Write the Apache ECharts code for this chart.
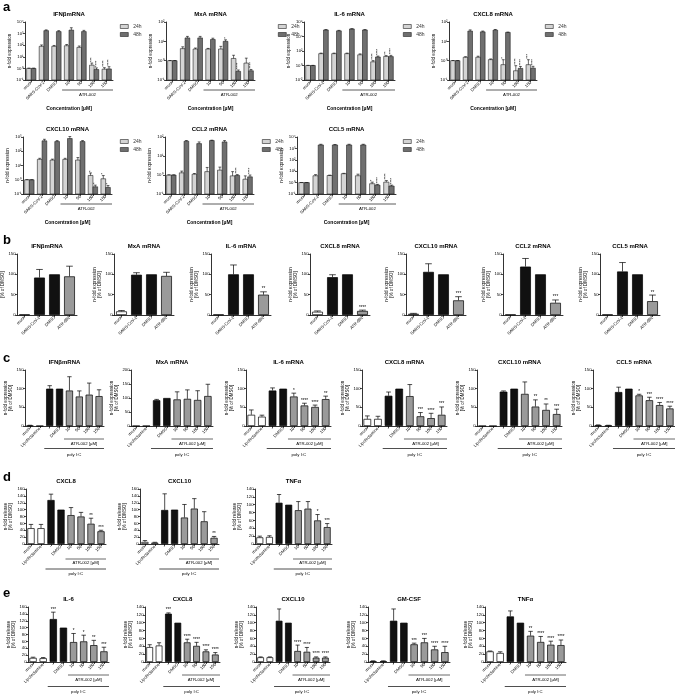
<!DOCTYPE html>
<html><head><meta charset="utf-8">
<script src="https://cdn.jsdelivr.net/npm/echarts@6/dist/echarts.min.js"></script>
<style>html,body{margin:0;padding:0;background:#fff}#c{width:675px;height:695px}</style>
</head><body><div id="c"></div>
<script>
// ================= DATA =================
// Panel a (log scale, 24h / 48h)
const aCats = ['mock','SARS-CoV-2','DMSO','10','50','100','150'];
const aTitles = ['IFNβmRNA','MxA mRNA','IL-6 mRNA','CXCL8 mRNA','CXCL10 mRNA','CCL2 mRNA','CCL5 mRNA'];
const aMin = [0.1,0.1,0.01,0.1,0.1,0.1,0.1];
const aMax = [1e4,100,1e6,100,1000,100,1e4];
const aStep = [1,1,2,1,1,1,1];
const a24h = [
  [1,80,80,90,65,1.9,0.85],
  [1,4.2,4,4,4,1.3,0.75],
  [1,43,43,43,30,3.2,18],
  [1,1.5,1.5,1.13,0.62,0.3,0.62],
  [1,27,24,27,24,2,1.17],
  [1,1.3,1.1,1.5,1.8,0.9,0.6],
  [1,4,4.2,6,4,0.8,1.1]];
const a24hErr = [
  [0.05,25,15,25,20,1.0,0.3],
  [0.02,1,0.5,0.3,1.5,0.6,0.6],
  [0.05,8,8,8,10,1.5,5],
  [0.02,0.1,0.2,0.1,0.5,0.25,0.5],
  [0.02,5,4,5,12,1,0.8],
  [0.02,0.3,0.1,1,0.8,0.6,0.3],
  [0.02,1,0.3,0.5,1.5,0.3,0.4]];
const a48h = [
  [1,1800,1500,2000,1500,0.8,0.9],
  [1,15,15,12.5,10,0.28,0.3],
  [1,8e4,6e4,1.1e5,8e4,15,17],
  [1,34,31,38,29,0.4,0.41],
  [1,540,480,780,480,0.32,0.29],
  [1,60,45,65,55,0.95,0.8],
  [1,2000,2000,2000,2000,0.6,0.5]];
const a48hErr = [
  [0.05,300,300,1200,400,0.3,0.5],
  [0.02,3,3,2,2,0.05,0.05],
  [0.05,1e4,1e4,1e4,1e4,5,8],
  [0.02,5,3,3,1,0.1,0.1],
  [0.02,150,80,300,80,0.1,0.1],
  [0.02,5,10,3,10,0.1,0.2],
  [0.02,300,200,300,300,0.1,0.1]];
const a24hStars = [
  ['','','','','','***','****'],
  ['','','','','','',''],
  ['','','','','','****','**'],
  ['','','','','*','****','***'],
  ['','','','','','*','*'],
  ['','','','','','',''],
  ['','','','','','*','****']];
const a48hStars = [
  ['','','','','','****','****'],
  ['','','','','*','****','****'],
  ['','','','','','****','****'],
  ['','','','','','****','****'],
  ['','','','','','*','*'],
  ['','','','','','****','****'],
  ['','','','','','****','****']];

// Panel b
const bCats = ['mock','SARS-CoV-2','DMSO','ATR-002'];
const bTitles = ['IFNβmRNA','MxA mRNA','IL-6 mRNA','CXCL8 mRNA','CXCL10 mRNA','CCL2 mRNA','CCL5 mRNA'];
const bVals = [[1,92,100,95],[9,99,100,96],[1,100,100,50],[8,93,100,10],[3,106,100,36],[1,119,100,30],[1,107,100,34]];
const bErr = [[0,20,0,25],[2,5,0,9],[0,23,0,7],[2,6,0,2],[1,20,0,9],[0,20,0,7],[0,22,0,15]];
const bStars = [['','','',''],['','','',''],['','','','**'],['','','','****'],['','','','***'],['','','','***'],['','','','**']];

// Panels c, d, e
const polyCats = ['mock','Lipofectamine','-','DMSO','10','50','100','150'];
const cTitles = ['IFNβmRNA','MxA mRNA','IL-6 mRNA','CXCL8 mRNA','CXCL10 mRNA','CCL5 mRNA'];
const cMax = [150,200,150,150,150,150];
const cVals = [
  [1,0,100,100,95,79,84,80],
  [0,0,92,100,95,97,93,107],
  [30,25,95,100,79,55,51,72],
  [19,19,81,100,80,26,21,30],
  [0,0,92,100,86,52,43,32],
  [2,1,91,100,82,69,56,47]];
const cErr = [
  [1,0,8,0,37,15,31,17],
  [0,0,3,0,27,32,33,42],
  [13,4,7,0,9,6,5,8],
  [8,7,10,0,31,10,13,21],
  [0,0,2,0,32,18,16,13],
  [1,1,13,0,3,8,7,6]];
const cStars = [
  ['','','','','','','',''],
  ['','','','','','','',''],
  ['','','','','*','****','****','**'],
  ['','','','','','***','****','***'],
  ['','','','','','**','**','***'],
  ['','','','','*','***','****','****']];

const dTitles = ['CXCL8','CXCL10','TNFα'];
const dMax = [160,160,140];
const dVals = [[46,46,128,100,84,80,59,37],[6,4,99,100,77,103,66,18],[17,18,105,100,86,90,60,43]];
const dErr = [[11,11,17,0,22,12,16,3],[4,1,47,0,38,29,28,4],[3,3,21,0,22,18,15,9]];
const dStars = [['','','','','','','**','***'],['','','','','','','','**'],['','','','','','','*','***']];

const eTitles = ['IL-6','CXCL8','CXCL10','GM-CSF','TNFα'];
const eMax = [160,140,140,140,140];
const eVals = [[12,11,125,100,58,60,49,31],[38,42,123,100,50,41,27,19],[12,12,105,100,28,26,11,11],[2,2,105,100,45,50,32,25],[27,23,116,100,67,51,44,43]];
const eErr = [[2,2,20,0,25,18,14,12],[6,7,2,0,8,9,4,5],[1,1,30,0,15,11,2,2],[1,1,30,0,3,10,8,15],[1,3,14,0,11,14,9,13]];
const eStars = [['','','***','','*','*','**','***'],['','','***','','****','****','****','****'],['','','','','****','****','****','****'],['','','','','***','***','****','****'],['','','','','**','****','****','****']];

const bColorKeys = ['w','k','k','g'];
const polyColorKeys = ['w','w','k','k','g','g','g','g'];

// ================= LAYOUT =================
const FONT = 'Liberation Sans, Arial, sans-serif';
const aLayout = [[25,22,88,58],[166,22,89,58],[304,22,91,58],[449,22,88,58],[23,137,89,57],[165,137,89,57],[297,137,99,57]];
const aLegendPos = [[120,24],[278,24],[403,24],[545,24],[120,139],[262,139],[403,139]];
const bLeft = [17,114,211,310,406,503,600], bTop = 254, bH = 61, bW = 60;
const cLeft = [25,131,246,362,477,593], cW = [79,82,85,85,85,82], cTop = 370, cH = 56;
const dLeft = [26,140,255], dW = [80,79,77], dTop = 489, dH = 55;
const eLeft = [28,145,256,368,485], eW = [81,75,74,82,81], eTop = 607, eH = 55;

const fills = {w:'#ffffff', k:'#111111', g:'#9a9a9a'};
const aFill24 = '#d4d4d4', aFill48 = '#6f6f6f';
const sup = {'0':'⁰','1':'¹','2':'²','3':'³','4':'⁴','5':'⁵','6':'⁶','7':'⁷','8':'⁸','9':'⁹','-':'⁻'};
function pow10(v){ const e = Math.round(Math.log10(v)); return '10' + String(e).split('').map(c=>sup[c]).join(''); }

const option = {animation:false, textStyle:{fontFamily:FONT}, grid:[], xAxis:[], yAxis:[], series:[], legend:[], graphic:[]};

function addGrid(left, top, width, height, cats, yAx, title, xName, xGap){
  const gi = option.grid.length;
  option.grid.push({left, top, width, height, containLabel:false, outerBoundsMode:'none'});
  option.xAxis.push({type:'category', gridIndex:gi, data:cats,
    axisLine:{show:true, lineStyle:{color:'#000', width:0.8}},
    axisTick:{show:true, alignWithLabel:true, length:2, lineStyle:{color:'#000', width:0.7}},
    axisLabel:{rotate:45, fontSize:4.2, interval:0, margin:2, color:'#000', fontFamily:FONT},
    splitLine:{show:false},
    name:xName||'', nameLocation:'middle', nameGap:xGap||0, nameMoveOverlap:false,
    nameTextStyle:{fontSize:5, fontWeight:'bold', color:'#000', fontFamily:FONT}});
  option.yAxis.push(Object.assign({gridIndex:gi,
    axisLine:{show:true, lineStyle:{color:'#000', width:0.8}},
    axisTick:{show:true, length:2, lineStyle:{color:'#000', width:0.7}},
    axisLabel:{fontSize:4.2, margin:1.5, color:'#000', fontFamily:FONT},
    splitLine:{show:false}, nameLocation:'middle', nameMoveOverlap:false,
    nameTextStyle:{fontSize:4.5, color:'#000', fontFamily:FONT, lineHeight:5}}, yAx));
  option.graphic.push({type:'text', x:left+width/2, y:top-8, silent:true,
    style:{text:title, font:'bold 6px '+FONT, fill:'#000', align:'center', verticalAlign:'middle'}});
  return gi;
}

function bracketSeries(gi, yBase, items){
  return {type:'custom', xAxisIndex:gi, yAxisIndex:gi, clip:false, silent:true, z:1,
    data: items.map(b=>[b.s, yBase]), encode:{x:0, y:1},
    renderItem(params, api){
      const b = items[params.dataIndex];
      const p1 = api.coord([b.s, yBase]), p2 = api.coord([b.e, yBase]);
      const band = api.coord([1, yBase])[0] - api.coord([0, yBase])[0];
      const x1 = p1[0] - band*0.55, x2 = p2[0] + band*0.5;
      return {type:'group', children:[
        {type:'line', shape:{x1, y1:p1[1]+b.dy, x2, y2:p1[1]+b.dy}, style:{stroke:b.color||'#333', lineWidth:0.8}},
        {type:'text', x:(x1+x2)/2, y:p1[1]+b.tdy, style:{text:b.text, font:'4.3px '+FONT, fill:'#000', align:'center', verticalAlign:'middle'}}
      ]};
    }};
}

function errSeries(gi, vals, errs, stars){
  return {type:'custom', xAxisIndex:gi, yAxisIndex:gi, clip:false, silent:true, z:3,
    data: vals.map((v,k)=>[k, v, v+errs[k]]), encode:{x:0, y:1},
    renderItem(params, api){
      const k = api.value(0), v = api.value(1), hi = api.value(2);
      const p0 = api.coord([k, v]), p1 = api.coord([k, hi]);
      const band = api.coord([1, 0])[0] - api.coord([0, 0])[0];
      const ch = [];
      if (hi > v) {
        ch.push({type:'line', shape:{x1:p0[0], y1:p0[1], x2:p1[0], y2:p1[1]}, style:{stroke:'#000', lineWidth:0.7}});
        ch.push({type:'line', shape:{x1:p1[0]-band*0.22, y1:p1[1], x2:p1[0]+band*0.22, y2:p1[1]}, style:{stroke:'#000', lineWidth:0.7}});
      }
      const s = stars[params.dataIndex];
      if (s) ch.push({type:'text', x:p1[0], y:p1[1]-0.3, style:{text:s, font:'4.5px '+FONT, fill:'#000', align:'center', verticalAlign:'bottom'}});
      return {type:'group', children:ch};
    }};
}

function logBarSeries(gi, name, color, vals, errs, stars, side, yMin){
  return {type:'custom', name, xAxisIndex:gi, yAxisIndex:gi, clip:false, z:2,
    itemStyle:{color, borderColor:'#222', borderWidth:0.6},
    data: vals.map((v,k)=>[k, v, v+errs[k]]), encode:{x:0, y:1},
    renderItem(params, api){
      const k = api.value(0), v = api.value(1), hi = api.value(2);
      const base = api.coord([k, yMin]), top = api.coord([k, v]), hp = api.coord([k, hi]);
      const band = api.coord([1, yMin])[0] - api.coord([0, yMin])[0];
      const w = band*0.37;
      const cx = base[0] + side*w/2;
      const ch = [
        {type:'rect', shape:{x:cx-w/2, y:top[1], width:w, height:base[1]-top[1]}, style:{fill:color, stroke:'#222', lineWidth:0.6}},
        {type:'line', shape:{x1:cx, y1:top[1], x2:cx, y2:hp[1]}, style:{stroke:'#000', lineWidth:0.6}},
        {type:'line', shape:{x1:cx-w*0.3, y1:hp[1], x2:cx+w*0.3, y2:hp[1]}, style:{stroke:'#000', lineWidth:0.6}}
      ];
      const s = stars[params.dataIndex];
      if (s) ch.push({type:'text', x:cx, y:hp[1]-1, rotation:Math.PI/2, style:{text:s, font:'4px '+FONT, fill:'#000', align:'left', verticalAlign:'middle'}});
      return {type:'group', children:ch};
    }};
}

function barSeries(gi, vals, keys){
  return {type:'bar', xAxisIndex:gi, yAxisIndex:gi, barWidth:'72%', z:2, silent:true,
    data: vals.map((v,k)=>({value:v, itemStyle:{color:fills[keys[k]], borderColor:'#000', borderWidth:0.7}}))};
}

// ---- Panel a ----
aTitles.forEach((t, i)=>{
  const L = aLayout[i];
  const gi = addGrid(L[0], L[1], L[2], L[3], aCats,
    {type:'log', logBase:10, min:aMin[i], max:aMax[i], interval:aStep[i],
     axisLabel:{fontSize:4.3, margin:1.5, color:'#000', fontFamily:FONT, formatter:pow10},
     name:'n-fold expression', nameGap:13},
    t, 'Concentration [µM]', 26);
  option.series.push(logBarSeries(gi, '24h', aFill24, a24h[i], a24hErr[i], a24hStars[i], -1, aMin[i]));
  option.series.push(logBarSeries(gi, '48h', aFill48, a48h[i], a48hErr[i], a48hStars[i], 1, aMin[i]));
  option.series.push(bracketSeries(gi, aMin[i], [{s:3, e:6, dy:10, tdy:14.5, text:'ATR-002', color:'#333'}]));
  option.legend.push({left:aLegendPos[i][0], top:aLegendPos[i][1], orient:'vertical', icon:'rect',
    itemWidth:8, itemHeight:4, itemGap:3, padding:0, selectedMode:false,
    data:[{name:'24h', itemStyle:{color:aFill24, borderColor:'#222', borderWidth:0.6}},
          {name:'48h', itemStyle:{color:aFill48, borderColor:'#222', borderWidth:0.6}}],
    textStyle:{fontSize:5, color:'#333', fontFamily:FONT}});
});

// ---- Panel b ----
bTitles.forEach((t, i)=>{
  const gi = addGrid(bLeft[i], bTop, bW, bH, bCats,
    {type:'value', min:0, max:150, interval:50, name:'n-fold expression\n[% of DMSO]', nameGap:12}, t);
  option.series.push(barSeries(gi, bVals[i], bColorKeys));
  option.series.push(errSeries(gi, bVals[i], bErr[i], bStars[i]));
});

// ---- Panels c, d, e ----
function polyPanel(titles, lefts, widths, top, h, vals, errs, stars, maxes, interval, yName, gap, off){
  titles.forEach((t, i)=>{
    const gi = addGrid(lefts[i], top, widths[i], h, polyCats,
      {type:'value', min:0, max:maxes[i], interval:interval, name:yName, nameGap:gap}, t);
    option.series.push(barSeries(gi, vals[i], polyColorKeys));
    option.series.push(errSeries(gi, vals[i], errs[i], stars[i]));
    option.series.push(bracketSeries(gi, 0, [
      {s:4, e:7, dy:off[0], tdy:off[1], text:'ATR-002 [µM]', color:'#444'},
      {s:2, e:7, dy:off[2], tdy:off[3], text:'poly I:C', color:'#222'}]));
  });
}
polyPanel(cTitles, cLeft, cW, cTop, cH, cVals, cErr, cStars, cMax, 50, 'n-fold expression\n[% of DMSO]', 12, [13,17.5,22.5,29]);
polyPanel(dTitles, dLeft, dW, dTop, dH, dVals, dErr, dStars, dMax, 20, 'n-fold release\n[% of DMSO]', 13, [15,19,25,29.5]);
polyPanel(eTitles, eLeft, eW, eTop, eH, eVals, eErr, eStars, eMax, 20, 'n-fold release\n[% of DMSO]', 12, [13,17.5,24.5,29.5]);

// ---- panel letters ----
[['a',14],['b',247],['c',365],['d',484],['e',600]].forEach(p=>{
  option.graphic.push({type:'text', x:3, y:p[1], silent:true,
    style:{text:p[0], font:'bold 13px '+FONT, fill:'#000', align:'left', verticalAlign:'bottom'}});
});

const chart = echarts.init(document.getElementById('c'), null, {renderer:'canvas'});
chart.setOption(option);
</script></body></html>
